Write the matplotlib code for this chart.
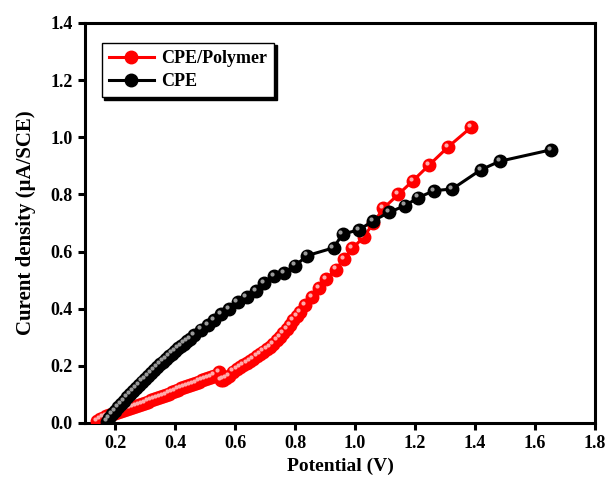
import numpy as np
import matplotlib
matplotlib.use('Agg')
from matplotlib import pyplot as plt
from matplotlib import transforms

# CPE/Polymer (red)
poly_x = [0.14, 0.15, 0.16, 0.17, 0.18, 0.19, 0.20, 0.21, 0.22, 0.23, 0.24, 0.25,
          0.26, 0.27, 0.28, 0.29, 0.30, 0.31, 0.32, 0.33, 0.34, 0.35, 0.36, 0.37,
          0.38, 0.39, 0.40, 0.41, 0.42, 0.43, 0.44, 0.45, 0.46, 0.47, 0.48, 0.49,
          0.50, 0.51, 0.52, 0.53, 0.545, 0.552, 0.56, 0.57, 0.58, 0.594, 0.605,
          0.616, 0.627, 0.639, 0.65, 0.661, 0.672, 0.683, 0.694, 0.705, 0.716,
          0.727, 0.739, 0.75, 0.761, 0.772, 0.783, 0.794, 0.806, 0.817, 0.833,
          0.856, 0.88, 0.904, 0.936, 0.963, 0.991, 1.028, 1.061, 1.094, 1.144,
          1.193, 1.247, 1.311, 1.387]
poly_y = [0.008, 0.014, 0.019, 0.024, 0.028, 0.032, 0.035, 0.039, 0.042, 0.045,
          0.048, 0.051, 0.055, 0.059, 0.063, 0.067, 0.071, 0.075, 0.079, 0.083,
          0.087, 0.091, 0.095, 0.099, 0.103, 0.108, 0.113, 0.117, 0.121, 0.125,
          0.129, 0.133, 0.137, 0.141, 0.145, 0.149, 0.153, 0.157, 0.161, 0.166,
          0.178, 0.150, 0.152, 0.158, 0.165, 0.180, 0.188, 0.195, 0.202, 0.210,
          0.217, 0.225, 0.233, 0.241, 0.250, 0.258, 0.266, 0.277, 0.291, 0.302,
          0.315, 0.328, 0.344, 0.359, 0.373, 0.387, 0.413, 0.440, 0.471, 0.504,
          0.537, 0.574, 0.611, 0.650, 0.700, 0.751, 0.800, 0.848, 0.903, 0.967,
          1.035]

# CPE (black)
cpe_x = [0.172, 0.18, 0.19, 0.20, 0.21, 0.22, 0.23, 0.24, 0.25, 0.26, 0.27, 0.28,
         0.29, 0.30, 0.31, 0.32, 0.33, 0.34, 0.35, 0.36, 0.37, 0.38, 0.39, 0.40,
         0.41, 0.42, 0.43, 0.44, 0.45, 0.463, 0.486, 0.508, 0.53, 0.554, 0.58,
         0.608, 0.638, 0.669, 0.697, 0.73, 0.763, 0.80, 0.841, 0.928, 0.958,
         1.013, 1.061, 1.113, 1.167, 1.211, 1.263, 1.324, 1.419, 1.482, 1.653]
cpe_y = [0.005, 0.018, 0.030, 0.042, 0.055, 0.067, 0.078, 0.090, 0.100, 0.112,
         0.123, 0.134, 0.145, 0.155, 0.165, 0.175, 0.185, 0.195, 0.205, 0.215,
         0.225, 0.234, 0.243, 0.252, 0.261, 0.270, 0.278, 0.287, 0.295, 0.308,
         0.327, 0.343, 0.360, 0.381, 0.399, 0.422, 0.442, 0.463, 0.489, 0.513,
         0.525, 0.551, 0.586, 0.613, 0.661, 0.676, 0.708, 0.737, 0.761, 0.789,
         0.813, 0.819, 0.886, 0.916, 0.956]

plt.rcParams['font.family'] = ['Liberation Serif', 'DejaVu Serif']
plt.rcParams['font.weight'] = 'bold'

fig = plt.figure(figsize=(6.09, 4.79), dpi=100)
ax = fig.add_axes([0.140, 0.117, 0.837, 0.835])

hl = transforms.offset_copy(ax.transData, fig=fig, x=-1.5, y=1.5, units='points')

ax.plot(poly_x, poly_y, '-o', color='red', lw=2.2, ms=9, mfc='red', mec='red',
        label='CPE/Polymer', zorder=3)
ax.plot(poly_x, poly_y, 'o', color='#ffaaaa', ms=3, mew=0, transform=hl, zorder=3.1)
ax.plot(cpe_x, cpe_y, '-o', color='black', lw=2.2, ms=9, mfc='black', mec='black',
        label='CPE', zorder=4)
ax.plot(cpe_x, cpe_y, 'o', color='#9a9a9a', ms=3, mew=0, transform=hl, zorder=4.1)

ax.set_xlim(0.1, 1.8)
ax.set_ylim(0.0, 1.4)
ax.set_xticks(np.arange(0.2, 1.81, 0.2))
ax.set_yticks(np.arange(0.0, 1.41, 0.2))
ax.xaxis.set_major_formatter(matplotlib.ticker.FormatStrFormatter('%.1f'))
ax.yaxis.set_major_formatter(matplotlib.ticker.FormatStrFormatter('%.1f'))
ax.tick_params(direction='out', length=5, width=2.2, labelsize=13, pad=4)
for s in ax.spines.values():
    s.set_linewidth(2.2)

ax.set_xlabel('Potential (V)', fontsize=14, fontweight='bold', labelpad=4)
ax.set_ylabel('Curent density (\u03bcA/SCE)', fontsize=15, fontweight='bold', labelpad=10)

leg = ax.legend(loc='upper left', bbox_to_anchor=(0.025, 0.96), fontsize=13,
                frameon=True, fancybox=False, shadow={'color': 'black', 'alpha': 1},
                handlelength=2.5, borderpad=0.4, labelspacing=0.35, handletextpad=0.4,
                borderaxespad=0.2)
leg.get_frame().set_edgecolor('black')
leg.get_frame().set_linewidth(1.0)
leg.get_frame().set_alpha(1)
for t in leg.get_texts():
    t.set_fontweight('bold')

plt.savefig('out.png', dpi=100)
